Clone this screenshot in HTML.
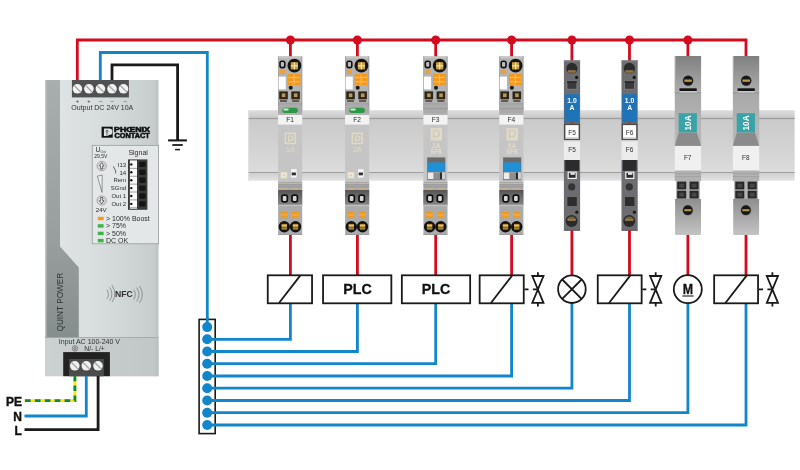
<!DOCTYPE html>
<html lang="en">
<head>
<meta charset="utf-8">
<title>Circuit breaker wiring overview</title>
<style>
html,body{margin:0;padding:0;background:#fff;}
body{width:800px;height:470px;overflow:hidden;}
svg{display:block;font-family:"Liberation Sans",sans-serif;will-change:transform;-webkit-font-smoothing:antialiased;}
</style>
</head>
<body>
<svg width="800" height="470" viewBox="0 0 800 470">
<defs>
<linearGradient id="gBody" x1="0" y1="0" x2="1" y2="0">
<stop offset="0" stop-color="#e1e5e5"/><stop offset="0.5" stop-color="#d7dcdc"/><stop offset="1" stop-color="#c6cccc"/>
</linearGradient>
<linearGradient id="gBot" x1="0" y1="0" x2="1" y2="0">
<stop offset="0" stop-color="#cbd0d0"/><stop offset="1" stop-color="#c1c7c7"/>
</linearGradient>
<linearGradient id="gStrip" x1="0" y1="0" x2="0" y2="1">
<stop offset="0" stop-color="#a8aeae"/><stop offset="0.6" stop-color="#999f9f"/><stop offset="1" stop-color="#868d8d"/>
</linearGradient>
<linearGradient id="gRailTop" x1="0" y1="0" x2="0" y2="1">
<stop offset="0" stop-color="#dedede"/><stop offset="1" stop-color="#c8c8c8"/>
</linearGradient>
<linearGradient id="gRail" x1="0" y1="0" x2="0" y2="1">
<stop offset="0" stop-color="#cacaca"/><stop offset="0.5" stop-color="#d2d2d2"/><stop offset="1" stop-color="#dcdcdc"/>
</linearGradient>
<linearGradient id="gRailLip" x1="0" y1="0" x2="0" y2="1">
<stop offset="0" stop-color="#cfcfcf"/><stop offset="1" stop-color="#e3e3e3"/>
</linearGradient>
<linearGradient id="gF7" x1="0" y1="0" x2="0" y2="1">
<stop offset="0" stop-color="#808080"/><stop offset="1" stop-color="#adadad"/>
</linearGradient>
<linearGradient id="gF7b" x1="0" y1="0" x2="0" y2="1">
<stop offset="0" stop-color="#a8a8a8"/><stop offset="1" stop-color="#b8b8b8"/>
</linearGradient>
<linearGradient id="gF7c" x1="0" y1="0" x2="0" y2="1">
<stop offset="0" stop-color="#8f8f8f"/><stop offset="1" stop-color="#c3c3c3"/>
</linearGradient>
<linearGradient id="gDark" x1="0" y1="0" x2="0" y2="1">
<stop offset="0" stop-color="#555555"/><stop offset="1" stop-color="#868686"/>
</linearGradient>
<radialGradient id="gGold" cx="0.5" cy="0.5" r="0.5">
<stop offset="0" stop-color="#d9b45a"/><stop offset="1" stop-color="#8a6a20"/>
</radialGradient>
</defs>
<rect width="800" height="470" fill="#fff"/>

<g id="rail">
<rect x="248" y="110.2" width="546.6" height="8" fill="url(#gRailTop)"/>
<rect x="248" y="118.6" width="546.6" height="54" fill="url(#gRail)"/>
<rect x="248" y="117.9" width="546.6" height="1.2" fill="#9c9c9c"/>
<rect x="248" y="172" width="546.6" height="1.4" fill="#9e9e9e"/>
<rect x="248" y="173.4" width="546.6" height="7.3" fill="url(#gRailLip)"/>
<rect x="248" y="110.2" width="1.2" height="70.5" fill="#e6e6e6" opacity="0.7"/>
</g>
<g fill="none" stroke-width="2.8" stroke-linejoin="miter">
<path d="M77.3 81V40H746V57" stroke="#d40b1e"/>
<path d="M100.3 81V52.5H207.3V325" stroke="#1286ca" stroke-width="2.8"/>
<path d="M112 81V64.8H177.6V140" stroke="#1a1a1a"/>
</g>
<g stroke="#1a1a1a" fill="none"><path d="M168.1 140.4H186.9" stroke-width="2.1"/><path d="M172.3 145H182.8" stroke-width="1.8"/><path d="M175.1 149.6H180" stroke-width="1.5"/></g>
<g id="psu">
<rect x="45" y="80" width="113.5" height="296.2" fill="url(#gBody)"/>
<path d="M45 80H60V246.5L78.8 267.5V338H45Z" fill="url(#gStrip)"/>
<rect x="45" y="80" width="1.6" height="258" fill="#c6caca" opacity="0.8"/>
<rect x="45" y="337.6" width="113.5" height="38.6" fill="url(#gBot)"/>
<rect x="45" y="337" width="113.5" height="0.9" fill="#a2a8a8"/>
<rect x="155.5" y="80" width="3" height="296.2" fill="#b4bbbb" opacity="0.35"/>
<rect x="71.9" y="80" width="57" height="17.4" fill="#505153"/>
<circle cx="77.4" cy="88.8" r="4.8" fill="#f1f1f1"/>
<path d="M74.30000000000001 85.7L80.5 91.89999999999999" stroke="#9a9a9a" stroke-width="1.2"/>
<circle cx="88.9" cy="88.8" r="4.8" fill="#f1f1f1"/>
<path d="M85.80000000000001 85.7L92.0 91.89999999999999" stroke="#9a9a9a" stroke-width="1.2"/>
<circle cx="100.4" cy="88.8" r="4.8" fill="#f1f1f1"/>
<path d="M97.30000000000001 85.7L103.5 91.89999999999999" stroke="#9a9a9a" stroke-width="1.2"/>
<circle cx="112.0" cy="88.8" r="4.8" fill="#f1f1f1"/>
<path d="M108.9 85.7L115.1 91.89999999999999" stroke="#9a9a9a" stroke-width="1.2"/>
<circle cx="123.5" cy="88.8" r="4.8" fill="#f1f1f1"/>
<path d="M120.4 85.7L126.6 91.89999999999999" stroke="#9a9a9a" stroke-width="1.2"/>
<g font-size="5.6" fill="#333" text-anchor="middle">
<text x="77.4" y="103.2">+</text>
<text x="88.9" y="103.2">+</text>
<text x="100.8" y="103.2">–</text>
<text x="112.1" y="103.2">–</text>
<text x="125.3" y="103.2">–</text>
</g>
<text x="71.3" y="109.7" font-size="7.2" fill="#333" textLength="62" lengthAdjust="spacingAndGlyphs">Output DC 24V 10A</text>
<g id="logo">
<rect x="101.6" y="126.7" width="11.1" height="11" fill="#111"/>
<path d="M103.9 128.5H109.2A3.2 3.2 0 0 1 109.2 134.9H108.4V136H103.9Z" fill="#dde1e1"/>
<circle cx="107" cy="131.3" r="1" fill="none" stroke="#111" stroke-width="0.55"/>
<path d="M107 132.3V136" stroke="#111" stroke-width="0.55"/>
<text x="114" y="131.5" font-size="6.6" font-weight="bold" fill="#111" stroke="#111" stroke-width="0.55" textLength="36" lengthAdjust="spacingAndGlyphs">PHŒNIX</text>
<text x="114.6" y="137.7" font-size="6.6" font-weight="bold" fill="#111" stroke="#111" stroke-width="0.55" textLength="35.2" lengthAdjust="spacingAndGlyphs">CONTACT</text>
</g>
<rect x="92.2" y="145.3" width="66.3" height="98.5" fill="#e3e7e7" stroke="#8d9393" stroke-width="0.7"/>
<g fill="#2c2c2c">
<text x="95.6" y="152.2" font-size="6.8">U<tspan font-size="3.2" dy="0.7">Out</tspan></text>
<text x="94.2" y="158.4" font-size="5">29,5V</text>
<text x="128.4" y="154.8" font-size="7">Signal</text>
<g font-size="6" text-anchor="end">
<text x="126.1" y="166.6">I13</text>
<text x="126.1" y="174.5">14</text>
<text x="126.1" y="182.4">Rem</text>
<text x="126.1" y="190.3">SGnd</text>
<text x="126.1" y="198.2">Out 1</text>
<text x="126.1" y="206.1">Out 2</text>
</g>
<text x="101.2" y="211.6" font-size="6.2" text-anchor="middle">24V</text>
</g>
<path d="M113.4 166.4L115.6 170.8V173.4" stroke="#2c2c2c" stroke-width="0.7" fill="none"/>
<circle cx="101.7" cy="166" r="4.6" fill="#eef0f0" stroke="#6a6a6a" stroke-width="0.6"/>
<circle cx="101.7" cy="166" r="3.3" fill="none" stroke="#9a9a9a" stroke-width="0.4"/>
<circle cx="101.7" cy="200.5" r="4.6" fill="#eef0f0" stroke="#6a6a6a" stroke-width="0.6"/>
<circle cx="101.7" cy="200.5" r="3.3" fill="none" stroke="#9a9a9a" stroke-width="0.4"/>
<path d="M101.7 162.7L104 165.8H102.7V169H100.7V165.8H99.4Z" fill="#f8f8f8" stroke="#333" stroke-width="0.75"/>
<path d="M101.7 203.8L104 200.7H102.7V197.5H100.7V200.7H99.4Z" fill="#f8f8f8" stroke="#333" stroke-width="0.75"/>
<path d="M97.4 176.2L102.2 175L102 192.4Z" fill="#eef0f0" stroke="#555" stroke-width="0.6"/>
<rect x="128" y="159.4" width="19.4" height="50.4" fill="#3a3a3a"/>
<rect x="129.9" y="160.4" width="7.1" height="48.4" fill="#fafafa"/>
<rect x="129.9" y="167.9" width="7.1" height="0.8" fill="#8a8a8a"/>
<circle cx="131.3" cy="164.4" r="1.2" fill="#111"/>
<rect x="139.2" y="161.7" width="6.4" height="5.4" rx="1.4" fill="#141414"/>
<rect x="129.9" y="175.8" width="7.1" height="0.8" fill="#8a8a8a"/>
<circle cx="131.3" cy="172.3" r="1.2" fill="#111"/>
<rect x="139.2" y="169.6" width="6.4" height="5.4" rx="1.4" fill="#141414"/>
<rect x="129.9" y="183.7" width="7.1" height="0.8" fill="#8a8a8a"/>
<circle cx="131.3" cy="180.2" r="1.2" fill="#111"/>
<rect x="139.2" y="177.5" width="6.4" height="5.4" rx="1.4" fill="#141414"/>
<rect x="129.9" y="191.6" width="7.1" height="0.8" fill="#8a8a8a"/>
<circle cx="131.3" cy="188.1" r="1.2" fill="#111"/>
<rect x="139.2" y="185.4" width="6.4" height="5.4" rx="1.4" fill="#141414"/>
<rect x="129.9" y="199.5" width="7.1" height="0.8" fill="#8a8a8a"/>
<circle cx="131.3" cy="196.0" r="1.2" fill="#111"/>
<rect x="139.2" y="193.3" width="6.4" height="5.4" rx="1.4" fill="#141414"/>
<rect x="129.9" y="207.4" width="7.1" height="0.8" fill="#8a8a8a"/>
<circle cx="131.3" cy="203.9" r="1.2" fill="#111"/>
<rect x="139.2" y="201.2" width="6.4" height="5.4" rx="1.4" fill="#141414"/>
<rect x="97.8" y="216.8" width="5.8" height="3.4" fill="#f39a1e"/>
<text x="106" y="221.0" font-size="7" fill="#2c2c2c">&gt; 100% Boost</text>
<rect x="97.8" y="224.2" width="5.8" height="3.4" fill="#3bb54a"/>
<text x="106" y="228.4" font-size="7" fill="#2c2c2c">&gt; 75%</text>
<rect x="97.8" y="231.7" width="5.8" height="3.4" fill="#3bb54a"/>
<text x="106" y="235.9" font-size="7" fill="#2c2c2c">&gt; 50%</text>
<rect x="97.8" y="238.9" width="5.8" height="3.4" fill="#3bb54a"/>
<text x="106" y="243.1" font-size="7" fill="#2c2c2c">DC OK</text>
<text transform="translate(63 331.5) rotate(-90)" font-size="9.3" fill="#2f3535" textLength="58.7" lengthAdjust="spacingAndGlyphs">QUINT POWER</text>
<text x="115.1" y="297.2" font-size="8.2" font-weight="bold" fill="#2e2e2e" textLength="17.7" lengthAdjust="spacingAndGlyphs">NFC</text>
<g fill="none" stroke="#7b8181" stroke-width="0.8">
<path d="M106.9 289.6Q110.03 294.20 106.9 298.8"/>
<path d="M109.6 287.3Q114.16 294.00 109.6 300.7"/>
<path d="M112.0 285.3Q117.78 293.80 112.0 302.3"/>
<path d="M133.7 289.6Q137.03 294.50 133.7 299.4"/>
<path d="M136.7 287.6Q141.39 294.50 136.7 301.4"/>
<path d="M139.5 286.0Q145.28 294.50 139.5 303.0"/>
</g>
<text x="58.8" y="343.8" font-size="6.9" fill="#333" textLength="61.2" lengthAdjust="spacingAndGlyphs">Input AC 100-240 V</text>
<text x="84.3" y="350.7" font-size="6.9" fill="#333" textLength="20.5" lengthAdjust="spacingAndGlyphs">N/- L/+</text>
<circle cx="75" cy="348.4" r="2.7" fill="none" stroke="#444" stroke-width="0.55"/>
<path d="M75 346.4V348.2M73.3 348.2H76.7M73.9 349.2H76.1M74.5 350.1H75.5" stroke="#444" stroke-width="0.5" fill="none"/>
<rect x="63.2" y="352.1" width="46.7" height="24.1" fill="#222"/>
<rect x="69.1" y="359" width="34.8" height="17.2" fill="#4c4c4c"/>
<circle cx="74.8" cy="365.8" r="4.8" fill="#efefef"/>
<path d="M71.7 362.7L77.89999999999999 368.90000000000003" stroke="#9a9a9a" stroke-width="1.2"/>
<circle cx="86.3" cy="365.8" r="4.8" fill="#efefef"/>
<path d="M83.2 362.7L89.39999999999999 368.90000000000003" stroke="#9a9a9a" stroke-width="1.2"/>
<circle cx="98.0" cy="365.8" r="4.8" fill="#efefef"/>
<path d="M94.9 362.7L101.1 368.90000000000003" stroke="#9a9a9a" stroke-width="1.2"/>
</g>
<g fill="none" stroke-width="2.8">
<path d="M74.9 376V400.6H24.5" stroke="#ffe600"/>
<path d="M74.9 376V400.6H24.5" stroke="#0a8a3a" stroke-dasharray="5.6 4.3" stroke-dashoffset="0.4"/>
<path d="M86.3 376V416H24.5" stroke="#1286ca"/>
<path d="M98.1 376V429.6H24.5" stroke="#1a1a1a"/>
</g>
<g font-size="12" font-weight="bold" fill="#111" stroke="#111" stroke-width="0.4" text-anchor="end">
<text x="21.9" y="405.5">PE</text><text x="21.9" y="420.8">N</text><text x="21.9" y="434.6">L</text>
</g>
<g id="modules">
<path d="M290.4 40V57" stroke="#d40b1e" stroke-width="2.8"/>
<circle cx="290.4" cy="40" r="4.5" fill="#d40b1e"/>
<path d="M357.4 40V57" stroke="#d40b1e" stroke-width="2.8"/>
<circle cx="357.4" cy="40" r="4.5" fill="#d40b1e"/>
<path d="M435.7 40V57" stroke="#d40b1e" stroke-width="2.8"/>
<circle cx="435.7" cy="40" r="4.5" fill="#d40b1e"/>
<path d="M511.6 40V57" stroke="#d40b1e" stroke-width="2.8"/>
<circle cx="511.6" cy="40" r="4.5" fill="#d40b1e"/>
<path d="M571.9 40V61" stroke="#d40b1e" stroke-width="2.8"/>
<circle cx="571.9" cy="40" r="4.5" fill="#d40b1e"/>
<path d="M629.5 40V61" stroke="#d40b1e" stroke-width="2.8"/>
<circle cx="629.5" cy="40" r="4.5" fill="#d40b1e"/>
<path d="M687.9 40V57" stroke="#d40b1e" stroke-width="2.8"/>
<circle cx="687.9" cy="40" r="4.5" fill="#d40b1e"/>
<rect x="278.1" y="56.4" width="24.1" height="54" fill="#b4b4b4"/>
<rect x="278.1" y="56.4" width="24.1" height="2" fill="#c6c6c6"/>
<rect x="278.1" y="56.4" width="0.8" height="54" fill="#9c9c9c"/>
<rect x="301.4" y="56.4" width="0.8" height="54" fill="#9c9c9c"/>
<rect x="280.0" y="61.2" width="4.8" height="6.4" fill="#bdbdbd" rx="1.8" stroke="#111" stroke-width="1.6"/>
<circle cx="294.4" cy="65.7" r="6.9" fill="#141414"/>
<rect x="290.8" y="62.2" width="7.2" height="7.2" fill="#c9a040"/>
<path d="M290.8 65.8H298.0M294.4 62.2V69.4" stroke="#f2e2a8" stroke-width="1.2"/>
<rect x="279.9" y="69.8" width="5" height="4.1" fill="#f0a030"/>
<rect x="287.7" y="74" width="12.7" height="11.2" fill="#f39a1c"/>
<path d="M288.5 77.4H299.7M288.5 81.8H299.7M294.1 74.6V84.6" stroke="#f8c274" stroke-width="0.9"/>
<rect x="278.6" y="76.6" width="7.2" height="12.8" fill="#fdfdfd"/>
<circle cx="290.7" cy="87.7" r="2.0" fill="#1a1a1a"/>
<rect x="279.2" y="91.4" width="8.6" height="7.9" fill="#2c261a"/>
<rect x="281.8" y="93.4" width="3.6" height="3.7" fill="#b9985a"/>
<rect x="280.0" y="100.3" width="7" height="1.4" fill="#3c3426"/>
<rect x="291.3" y="91.4" width="8.6" height="7.9" fill="#2c261a"/>
<rect x="293.9" y="93.4" width="3.6" height="3.7" fill="#b9985a"/>
<rect x="292.1" y="100.3" width="7" height="1.4" fill="#3c3426"/>
<rect x="278.1" y="102.8" width="24.1" height="0.7" fill="#969696"/>
<rect x="278.1" y="104.6" width="24.1" height="0.7" fill="#969696"/>
<rect x="278.1" y="106.4" width="24.1" height="6.6" fill="#a9a9a9"/>
<rect x="282.3" y="107.7" width="15.6" height="5.2" fill="#2f9648" rx="2.6"/>
<rect x="283.3" y="108.6" width="5.4" height="2" fill="#c9efd0" rx="1"/>
<rect x="278.1" y="113" width="24.1" height="70.4" fill="#c5c5c5"/>
<rect x="278.1" y="113" width="24.1" height="2.2" fill="#b2b2b2"/>
<rect x="278.1" y="115" width="24.1" height="9.6" fill="#f3f3f3"/>
<text x="290.2" y="122.2" font-size="6.6" fill="#2a2a2a" text-anchor="middle">F1</text>
<rect x="285.3" y="133.29999999999998" width="9.8" height="10.2" fill="none" stroke="#e3dac4" stroke-width="1.5"/>
<path d="M288.7 142.0V136.0H290.7A2.2 2.2 0 0 1 290.7 140.4H288.7" fill="none" stroke="#e3dac4" stroke-width="1.2"/>
<text x="290.3" y="152.2" font-size="7.2" fill="#e3dac4" text-anchor="middle">1A</text>
<rect x="280.3" y="171.8" width="7.2" height="6.8" fill="#ddd6c4"/>
<rect x="281.4" y="172.9" width="5" height="4.6" fill="#f1ede2"/>
<rect x="282.7" y="174.2" width="2.4" height="2.2" fill="#d8cfb8"/>
<rect x="291.1" y="169.2" width="5.5" height="8.4" fill="#f7f7f7"/>
<rect x="291.7" y="172.5" width="4.2" height="2.8" fill="#2e2e2e"/>
<rect x="278.1" y="183.4" width="24.1" height="51.6" fill="#ababab"/>
<rect x="278.1" y="182.4" width="24.1" height="0.8" fill="#939393"/>
<rect x="278.1" y="184.4" width="24.1" height="0.8" fill="#939393"/>
<rect x="278.1" y="186.4" width="24.1" height="0.8" fill="#939393"/>
<rect x="280.7" y="188.5" width="7" height="1.6" fill="#dcaa6c"/>
<rect x="291.9" y="188.5" width="7" height="1.6" fill="#dcaa6c"/>
<rect x="278.1" y="190" width="24.1" height="14.8" fill="url(#gDark)"/>
<rect x="281.9" y="195.1" width="5.4" height="6.8" fill="#d4d4d4" rx="1.9" stroke="#111" stroke-width="1.7"/>
<rect x="292.0" y="195.1" width="5.4" height="6.8" fill="#d4d4d4" rx="1.9" stroke="#111" stroke-width="1.7"/>
<rect x="278.1" y="204.8" width="24.1" height="1.3" fill="#c2c2c2"/>
<rect x="280.6" y="211.8" width="6.8" height="6.3" fill="#f39a1c"/>
<path d="M280.6 214.9H287.4" stroke="#f8c274" stroke-width="0.7"/>
<rect x="292.0" y="211.8" width="6.8" height="6.3" fill="#f39a1c"/>
<path d="M292.0 214.9H298.8" stroke="#f8c274" stroke-width="0.7"/>
<circle cx="284.3" cy="226.7" r="5.7" fill="#121212"/>
<rect x="281.6" y="223.9" width="5.4" height="5.7" fill="#b8923e"/>
<rect x="281.6" y="225.2" width="5.4" height="0.9" fill="#e6d08c"/>
<rect x="281.6" y="227.4" width="5.4" height="0.9" fill="#6a5220"/>
<circle cx="295.5" cy="226.7" r="5.7" fill="#121212"/>
<rect x="292.8" y="223.9" width="5.4" height="5.7" fill="#b8923e"/>
<rect x="292.8" y="225.2" width="5.4" height="0.9" fill="#e6d08c"/>
<rect x="292.8" y="227.4" width="5.4" height="0.9" fill="#6a5220"/>
<rect x="278.1" y="234.5" width="24.1" height="0.5" fill="#8f8f8f"/>
<rect x="345.1" y="56.4" width="24.1" height="54" fill="#b4b4b4"/>
<rect x="345.1" y="56.4" width="24.1" height="2" fill="#c6c6c6"/>
<rect x="345.1" y="56.4" width="0.8" height="54" fill="#9c9c9c"/>
<rect x="368.4" y="56.4" width="0.8" height="54" fill="#9c9c9c"/>
<rect x="347.0" y="61.2" width="4.8" height="6.4" fill="#bdbdbd" rx="1.8" stroke="#111" stroke-width="1.6"/>
<circle cx="361.4" cy="65.7" r="6.9" fill="#141414"/>
<rect x="357.8" y="62.2" width="7.2" height="7.2" fill="#c9a040"/>
<path d="M357.8 65.8H365.0M361.4 62.2V69.4" stroke="#f2e2a8" stroke-width="1.2"/>
<rect x="346.9" y="69.8" width="5" height="4.1" fill="#f0a030"/>
<rect x="354.7" y="74" width="12.7" height="11.2" fill="#f39a1c"/>
<path d="M355.5 77.4H366.7M355.5 81.8H366.7M361.1 74.6V84.6" stroke="#f8c274" stroke-width="0.9"/>
<rect x="345.6" y="76.6" width="7.2" height="12.8" fill="#fdfdfd"/>
<circle cx="357.7" cy="87.7" r="2.0" fill="#1a1a1a"/>
<rect x="346.2" y="91.4" width="8.6" height="7.9" fill="#2c261a"/>
<rect x="348.8" y="93.4" width="3.6" height="3.7" fill="#b9985a"/>
<rect x="347.0" y="100.3" width="7" height="1.4" fill="#3c3426"/>
<rect x="358.3" y="91.4" width="8.6" height="7.9" fill="#2c261a"/>
<rect x="360.9" y="93.4" width="3.6" height="3.7" fill="#b9985a"/>
<rect x="359.1" y="100.3" width="7" height="1.4" fill="#3c3426"/>
<rect x="345.1" y="102.8" width="24.1" height="0.7" fill="#969696"/>
<rect x="345.1" y="104.6" width="24.1" height="0.7" fill="#969696"/>
<rect x="345.1" y="106.4" width="24.1" height="6.6" fill="#a9a9a9"/>
<rect x="349.3" y="107.7" width="15.6" height="5.2" fill="#2f9648" rx="2.6"/>
<rect x="350.3" y="108.6" width="5.4" height="2" fill="#c9efd0" rx="1"/>
<rect x="345.1" y="113" width="24.1" height="70.4" fill="#c5c5c5"/>
<rect x="345.1" y="113" width="24.1" height="2.2" fill="#b2b2b2"/>
<rect x="345.1" y="115" width="24.1" height="9.6" fill="#f3f3f3"/>
<text x="357.2" y="122.2" font-size="6.6" fill="#2a2a2a" text-anchor="middle">F2</text>
<rect x="352.3" y="133.29999999999998" width="9.8" height="10.2" fill="none" stroke="#e3dac4" stroke-width="1.5"/>
<path d="M355.7 142.0V136.0H357.7A2.2 2.2 0 0 1 357.7 140.4H355.7" fill="none" stroke="#e3dac4" stroke-width="1.2"/>
<text x="357.3" y="152.2" font-size="7.2" fill="#e3dac4" text-anchor="middle">2A</text>
<rect x="347.3" y="171.8" width="7.2" height="6.8" fill="#ddd6c4"/>
<rect x="348.4" y="172.9" width="5" height="4.6" fill="#f1ede2"/>
<rect x="349.7" y="174.2" width="2.4" height="2.2" fill="#d8cfb8"/>
<rect x="358.1" y="169.2" width="5.5" height="8.4" fill="#f7f7f7"/>
<rect x="358.7" y="172.5" width="4.2" height="2.8" fill="#2e2e2e"/>
<rect x="345.1" y="183.4" width="24.1" height="51.6" fill="#ababab"/>
<rect x="345.1" y="182.4" width="24.1" height="0.8" fill="#939393"/>
<rect x="345.1" y="184.4" width="24.1" height="0.8" fill="#939393"/>
<rect x="345.1" y="186.4" width="24.1" height="0.8" fill="#939393"/>
<rect x="347.7" y="188.5" width="7" height="1.6" fill="#dcaa6c"/>
<rect x="358.9" y="188.5" width="7" height="1.6" fill="#dcaa6c"/>
<rect x="345.1" y="190" width="24.1" height="14.8" fill="url(#gDark)"/>
<rect x="348.9" y="195.1" width="5.4" height="6.8" fill="#d4d4d4" rx="1.9" stroke="#111" stroke-width="1.7"/>
<rect x="359.0" y="195.1" width="5.4" height="6.8" fill="#d4d4d4" rx="1.9" stroke="#111" stroke-width="1.7"/>
<rect x="345.1" y="204.8" width="24.1" height="1.3" fill="#c2c2c2"/>
<rect x="347.6" y="211.8" width="6.8" height="6.3" fill="#f39a1c"/>
<path d="M347.6 214.9H354.4" stroke="#f8c274" stroke-width="0.7"/>
<rect x="359.0" y="211.8" width="6.8" height="6.3" fill="#f39a1c"/>
<path d="M359.0 214.9H365.8" stroke="#f8c274" stroke-width="0.7"/>
<circle cx="351.3" cy="226.7" r="5.7" fill="#121212"/>
<rect x="348.6" y="223.9" width="5.4" height="5.7" fill="#b8923e"/>
<rect x="348.6" y="225.2" width="5.4" height="0.9" fill="#e6d08c"/>
<rect x="348.6" y="227.4" width="5.4" height="0.9" fill="#6a5220"/>
<circle cx="362.5" cy="226.7" r="5.7" fill="#121212"/>
<rect x="359.8" y="223.9" width="5.4" height="5.7" fill="#b8923e"/>
<rect x="359.8" y="225.2" width="5.4" height="0.9" fill="#e6d08c"/>
<rect x="359.8" y="227.4" width="5.4" height="0.9" fill="#6a5220"/>
<rect x="345.1" y="234.5" width="24.1" height="0.5" fill="#8f8f8f"/>
<rect x="423.4" y="56.4" width="24.1" height="54" fill="#b4b4b4"/>
<rect x="423.4" y="56.4" width="24.1" height="2" fill="#c6c6c6"/>
<rect x="423.4" y="56.4" width="0.8" height="54" fill="#9c9c9c"/>
<rect x="446.7" y="56.4" width="0.8" height="54" fill="#9c9c9c"/>
<rect x="425.3" y="61.2" width="4.8" height="6.4" fill="#bdbdbd" rx="1.8" stroke="#111" stroke-width="1.6"/>
<circle cx="439.7" cy="65.7" r="6.9" fill="#141414"/>
<rect x="436.1" y="62.2" width="7.2" height="7.2" fill="#c9a040"/>
<path d="M436.1 65.8H443.3M439.7 62.2V69.4" stroke="#f2e2a8" stroke-width="1.2"/>
<rect x="425.2" y="69.8" width="5" height="4.1" fill="#f0a030"/>
<rect x="433.0" y="74" width="12.7" height="11.2" fill="#f39a1c"/>
<path d="M433.8 77.4H445.0M433.8 81.8H445.0M439.4 74.6V84.6" stroke="#f8c274" stroke-width="0.9"/>
<rect x="423.9" y="76.6" width="7.2" height="12.8" fill="#fdfdfd"/>
<circle cx="436.0" cy="87.7" r="2.0" fill="#1a1a1a"/>
<rect x="424.5" y="91.4" width="8.6" height="7.9" fill="#2c261a"/>
<rect x="427.1" y="93.4" width="3.6" height="3.7" fill="#b9985a"/>
<rect x="425.3" y="100.3" width="7" height="1.4" fill="#3c3426"/>
<rect x="436.6" y="91.4" width="8.6" height="7.9" fill="#2c261a"/>
<rect x="439.2" y="93.4" width="3.6" height="3.7" fill="#b9985a"/>
<rect x="437.4" y="100.3" width="7" height="1.4" fill="#3c3426"/>
<rect x="423.4" y="102.8" width="24.1" height="0.7" fill="#969696"/>
<rect x="423.4" y="104.6" width="24.1" height="0.7" fill="#969696"/>
<rect x="423.4" y="106.4" width="24.1" height="6.6" fill="#a9a9a9"/>
<rect x="423.4" y="108.2" width="24.1" height="0.7" fill="#969696"/>
<rect x="423.4" y="113" width="24.1" height="70.4" fill="#c5c5c5"/>
<rect x="423.4" y="113" width="24.1" height="2.2" fill="#b2b2b2"/>
<rect x="423.4" y="115" width="24.1" height="9.6" fill="#f3f3f3"/>
<text x="435.5" y="122.2" font-size="6.6" fill="#2a2a2a" text-anchor="middle">F3</text>
<rect x="430.6" y="128.2" width="11.4" height="12.4" fill="#e3dac4"/>
<path d="M433.6 138.79999999999998V130.39999999999998H436.4A3 3 0 0 1 436.4 136.39999999999998H433.6" fill="none" stroke="#c9c9c9" stroke-width="1.3"/>
<text x="436.2" y="148.2" font-size="6.4" font-weight="bold" fill="#e3dac4" text-anchor="middle">2A</text>
<text x="436.2" y="153.9" font-size="6.4" font-weight="bold" fill="#e3dac4" text-anchor="middle" textLength="11.6" lengthAdjust="spacingAndGlyphs">SFB</text>
<rect x="427.2" y="157.4" width="18.1" height="22.8" fill="#6a6a6a"/>
<rect x="427.8" y="162.4" width="17" height="9.6" fill="#1f8fd6"/>
<rect x="427.8" y="172.4" width="17" height="6.8" fill="#ececec"/>
<rect x="433.4" y="172.4" width="6.4" height="6.8" fill="#8e8e8e"/>
<rect x="439.8" y="172.4" width="2.4" height="6.8" fill="#2a2a2a"/>
<rect x="442.2" y="172.4" width="2.6" height="6.8" fill="#d0d0d0"/>
<rect x="423.4" y="183.4" width="24.1" height="51.6" fill="#ababab"/>
<rect x="423.4" y="182.4" width="24.1" height="0.8" fill="#939393"/>
<rect x="423.4" y="184.4" width="24.1" height="0.8" fill="#939393"/>
<rect x="423.4" y="186.4" width="24.1" height="0.8" fill="#939393"/>
<rect x="426.0" y="188.5" width="7" height="1.6" fill="#dcaa6c"/>
<rect x="437.2" y="188.5" width="7" height="1.6" fill="#dcaa6c"/>
<rect x="423.4" y="190" width="24.1" height="14.8" fill="url(#gDark)"/>
<rect x="427.2" y="195.1" width="5.4" height="6.8" fill="#d4d4d4" rx="1.9" stroke="#111" stroke-width="1.7"/>
<rect x="437.3" y="195.1" width="5.4" height="6.8" fill="#d4d4d4" rx="1.9" stroke="#111" stroke-width="1.7"/>
<rect x="423.4" y="204.8" width="24.1" height="1.3" fill="#c2c2c2"/>
<rect x="425.9" y="211.8" width="6.8" height="6.3" fill="#f39a1c"/>
<path d="M425.9 214.9H432.7" stroke="#f8c274" stroke-width="0.7"/>
<rect x="437.3" y="211.8" width="6.8" height="6.3" fill="#f39a1c"/>
<path d="M437.3 214.9H444.1" stroke="#f8c274" stroke-width="0.7"/>
<circle cx="429.6" cy="226.7" r="5.7" fill="#121212"/>
<rect x="426.9" y="223.9" width="5.4" height="5.7" fill="#b8923e"/>
<rect x="426.9" y="225.2" width="5.4" height="0.9" fill="#e6d08c"/>
<rect x="426.9" y="227.4" width="5.4" height="0.9" fill="#6a5220"/>
<circle cx="440.8" cy="226.7" r="5.7" fill="#121212"/>
<rect x="438.1" y="223.9" width="5.4" height="5.7" fill="#b8923e"/>
<rect x="438.1" y="225.2" width="5.4" height="0.9" fill="#e6d08c"/>
<rect x="438.1" y="227.4" width="5.4" height="0.9" fill="#6a5220"/>
<rect x="423.4" y="234.5" width="24.1" height="0.5" fill="#8f8f8f"/>
<rect x="499.3" y="56.4" width="24.1" height="54" fill="#b4b4b4"/>
<rect x="499.3" y="56.4" width="24.1" height="2" fill="#c6c6c6"/>
<rect x="499.3" y="56.4" width="0.8" height="54" fill="#9c9c9c"/>
<rect x="522.6" y="56.4" width="0.8" height="54" fill="#9c9c9c"/>
<rect x="501.2" y="61.2" width="4.8" height="6.4" fill="#bdbdbd" rx="1.8" stroke="#111" stroke-width="1.6"/>
<circle cx="515.6" cy="65.7" r="6.9" fill="#141414"/>
<rect x="512.0" y="62.2" width="7.2" height="7.2" fill="#c9a040"/>
<path d="M512.0 65.8H519.2M515.6 62.2V69.4" stroke="#f2e2a8" stroke-width="1.2"/>
<rect x="501.1" y="69.8" width="5" height="4.1" fill="#f0a030"/>
<rect x="508.9" y="74" width="12.7" height="11.2" fill="#f39a1c"/>
<path d="M509.7 77.4H520.9M509.7 81.8H520.9M515.3 74.6V84.6" stroke="#f8c274" stroke-width="0.9"/>
<rect x="499.8" y="76.6" width="7.2" height="12.8" fill="#fdfdfd"/>
<circle cx="511.9" cy="87.7" r="2.0" fill="#1a1a1a"/>
<rect x="500.4" y="91.4" width="8.6" height="7.9" fill="#2c261a"/>
<rect x="503.0" y="93.4" width="3.6" height="3.7" fill="#b9985a"/>
<rect x="501.2" y="100.3" width="7" height="1.4" fill="#3c3426"/>
<rect x="512.5" y="91.4" width="8.6" height="7.9" fill="#2c261a"/>
<rect x="515.1" y="93.4" width="3.6" height="3.7" fill="#b9985a"/>
<rect x="513.3" y="100.3" width="7" height="1.4" fill="#3c3426"/>
<rect x="499.3" y="102.8" width="24.1" height="0.7" fill="#969696"/>
<rect x="499.3" y="104.6" width="24.1" height="0.7" fill="#969696"/>
<rect x="499.3" y="106.4" width="24.1" height="6.6" fill="#a9a9a9"/>
<rect x="499.3" y="108.2" width="24.1" height="0.7" fill="#969696"/>
<rect x="499.3" y="113" width="24.1" height="70.4" fill="#c5c5c5"/>
<rect x="499.3" y="113" width="24.1" height="2.2" fill="#b2b2b2"/>
<rect x="499.3" y="115" width="24.1" height="9.6" fill="#f3f3f3"/>
<text x="511.4" y="122.2" font-size="6.6" fill="#2a2a2a" text-anchor="middle">F4</text>
<rect x="506.5" y="128.2" width="11.4" height="12.4" fill="#e3dac4"/>
<path d="M509.5 138.79999999999998V130.39999999999998H512.3A3 3 0 0 1 512.3 136.39999999999998H509.5" fill="none" stroke="#c9c9c9" stroke-width="1.3"/>
<text x="512.1" y="148.2" font-size="6.4" font-weight="bold" fill="#e3dac4" text-anchor="middle">6A</text>
<text x="512.1" y="153.9" font-size="6.4" font-weight="bold" fill="#e3dac4" text-anchor="middle" textLength="11.6" lengthAdjust="spacingAndGlyphs">SFB</text>
<rect x="503.1" y="157.4" width="18.1" height="22.8" fill="#6a6a6a"/>
<rect x="503.7" y="162.4" width="17" height="9.6" fill="#1f8fd6"/>
<rect x="503.7" y="172.4" width="17" height="6.8" fill="#ececec"/>
<rect x="509.3" y="172.4" width="6.4" height="6.8" fill="#8e8e8e"/>
<rect x="515.7" y="172.4" width="2.4" height="6.8" fill="#2a2a2a"/>
<rect x="518.1" y="172.4" width="2.6" height="6.8" fill="#d0d0d0"/>
<rect x="499.3" y="183.4" width="24.1" height="51.6" fill="#ababab"/>
<rect x="499.3" y="182.4" width="24.1" height="0.8" fill="#939393"/>
<rect x="499.3" y="184.4" width="24.1" height="0.8" fill="#939393"/>
<rect x="499.3" y="186.4" width="24.1" height="0.8" fill="#939393"/>
<rect x="501.9" y="188.5" width="7" height="1.6" fill="#dcaa6c"/>
<rect x="513.1" y="188.5" width="7" height="1.6" fill="#dcaa6c"/>
<rect x="499.3" y="190" width="24.1" height="14.8" fill="url(#gDark)"/>
<rect x="503.1" y="195.1" width="5.4" height="6.8" fill="#d4d4d4" rx="1.9" stroke="#111" stroke-width="1.7"/>
<rect x="513.2" y="195.1" width="5.4" height="6.8" fill="#d4d4d4" rx="1.9" stroke="#111" stroke-width="1.7"/>
<rect x="499.3" y="204.8" width="24.1" height="1.3" fill="#c2c2c2"/>
<rect x="501.8" y="211.8" width="6.8" height="6.3" fill="#f39a1c"/>
<path d="M501.8 214.9H508.6" stroke="#f8c274" stroke-width="0.7"/>
<rect x="513.2" y="211.8" width="6.8" height="6.3" fill="#f39a1c"/>
<path d="M513.2 214.9H520.0" stroke="#f8c274" stroke-width="0.7"/>
<circle cx="505.5" cy="226.7" r="5.7" fill="#121212"/>
<rect x="502.8" y="223.9" width="5.4" height="5.7" fill="#b8923e"/>
<rect x="502.8" y="225.2" width="5.4" height="0.9" fill="#e6d08c"/>
<rect x="502.8" y="227.4" width="5.4" height="0.9" fill="#6a5220"/>
<circle cx="516.7" cy="226.7" r="5.7" fill="#121212"/>
<rect x="514.0" y="223.9" width="5.4" height="5.7" fill="#b8923e"/>
<rect x="514.0" y="225.2" width="5.4" height="0.9" fill="#e6d08c"/>
<rect x="514.0" y="227.4" width="5.4" height="0.9" fill="#6a5220"/>
<rect x="499.3" y="234.5" width="24.1" height="0.5" fill="#8f8f8f"/>
<rect x="563.9" y="60.4" width="16.2" height="64" fill="#6b6d70"/>
<rect x="563.9" y="60.4" width="16.2" height="1.2" fill="#808284"/>
<circle cx="571.8" cy="68.4" r="5.6" fill="#2c2c2c"/>
<path d="M567.4 70.8H576.2A4.6 4.6 0 0 1 567.4 70.8Z" fill="#7a6238"/>
<rect x="568.0" y="70.4" width="7.6" height="1.1" fill="#a48a52"/>
<circle cx="576.6" cy="77.4" r="1.6" fill="#161616"/>
<rect x="567.0" y="81.2" width="9.9" height="8" fill="#3a3a3a" stroke="#8a8c8e" stroke-width="0.7"/>
<rect x="567.0" y="81.2" width="9.9" height="1.6" fill="#262626"/>
<rect x="564.6" y="94.2" width="14.6" height="28" fill="#1f74b8"/>
<text x="572.0" y="103.2" font-size="6.8" font-weight="bold" fill="#fff" text-anchor="middle">1.0</text>
<text x="572.0" y="110.4" font-size="6.8" font-weight="bold" fill="#fff" text-anchor="middle">A</text>
<rect x="570.8" y="122" width="2.2" height="1.4" fill="#b03020"/>
<rect x="563.9" y="123.8" width="16.2" height="16.6" fill="#4a4a4a"/>
<rect x="565.4" y="125.1" width="13.2" height="13.8" fill="#fbfbfb"/>
<rect x="565.4" y="137.4" width="13.2" height="1.5" fill="#c4c4c4"/>
<text x="572.0" y="135" font-size="6.5" fill="#2e2e2e" text-anchor="middle">F5</text>
<rect x="563.9" y="140.4" width="16.2" height="19.8" fill="#ececec"/>
<rect x="563.9" y="140.4" width="16.2" height="1" fill="#d0d0d0"/>
<text x="572.0" y="151.7" font-size="6.5" fill="#2e2e2e" text-anchor="middle">F5</text>
<rect x="563.9" y="160" width="16.2" height="70.6" fill="#6b6d70"/>
<rect x="565.2" y="160" width="13.8" height="10.8" fill="#2b2b2b"/>
<rect x="568.2" y="172.2" width="8" height="6.2" fill="#2a2a2a" stroke="#f4f4f4" stroke-width="1.2"/>
<rect x="570.4" y="173" width="4.4" height="1.8" fill="#e8e8e8"/>
<circle cx="571.7" cy="186.9" r="3.6" fill="#343434"/>
<rect x="567.4" y="197" width="9.4" height="9" fill="#2e2e2e"/>
<circle cx="576.8" cy="212.2" r="1.6" fill="#1c1c1c"/>
<circle cx="571.6" cy="221" r="6.0" fill="#2a2a2a"/>
<path d="M567.0 220.2A4.7 4.7 0 0 1 576.2 220.2Z" fill="#7a6238"/>
<rect x="567.6" y="219.4" width="8" height="1.3" fill="#a48a52"/>
<rect x="563.9" y="229.8" width="16.2" height="0.8" fill="#4c4c4c"/>
<rect x="621.5" y="60.4" width="16.2" height="64" fill="#6b6d70"/>
<rect x="621.5" y="60.4" width="16.2" height="1.2" fill="#808284"/>
<circle cx="629.4" cy="68.4" r="5.6" fill="#2c2c2c"/>
<path d="M625.0 70.8H633.8A4.6 4.6 0 0 1 625.0 70.8Z" fill="#7a6238"/>
<rect x="625.6" y="70.4" width="7.6" height="1.1" fill="#a48a52"/>
<circle cx="634.2" cy="77.4" r="1.6" fill="#161616"/>
<rect x="624.6" y="81.2" width="9.9" height="8" fill="#3a3a3a" stroke="#8a8c8e" stroke-width="0.7"/>
<rect x="624.6" y="81.2" width="9.9" height="1.6" fill="#262626"/>
<rect x="622.2" y="94.2" width="14.6" height="28" fill="#1f74b8"/>
<text x="629.6" y="103.2" font-size="6.8" font-weight="bold" fill="#fff" text-anchor="middle">1.0</text>
<text x="629.6" y="110.4" font-size="6.8" font-weight="bold" fill="#fff" text-anchor="middle">A</text>
<rect x="628.4" y="122" width="2.2" height="1.4" fill="#b03020"/>
<rect x="621.5" y="123.8" width="16.2" height="16.6" fill="#4a4a4a"/>
<rect x="623.0" y="125.1" width="13.2" height="13.8" fill="#fbfbfb"/>
<rect x="623.0" y="137.4" width="13.2" height="1.5" fill="#c4c4c4"/>
<text x="629.6" y="135" font-size="6.5" fill="#2e2e2e" text-anchor="middle">F6</text>
<rect x="621.5" y="140.4" width="16.2" height="19.8" fill="#ececec"/>
<rect x="621.5" y="140.4" width="16.2" height="1" fill="#d0d0d0"/>
<text x="629.6" y="151.7" font-size="6.5" fill="#2e2e2e" text-anchor="middle">F6</text>
<rect x="621.5" y="160" width="16.2" height="70.6" fill="#6b6d70"/>
<rect x="622.8" y="160" width="13.8" height="10.8" fill="#2b2b2b"/>
<rect x="625.8" y="172.2" width="8" height="6.2" fill="#2a2a2a" stroke="#f4f4f4" stroke-width="1.2"/>
<rect x="628.0" y="173" width="4.4" height="1.8" fill="#e8e8e8"/>
<circle cx="629.3" cy="186.9" r="3.6" fill="#343434"/>
<rect x="625.0" y="197" width="9.4" height="9" fill="#2e2e2e"/>
<circle cx="634.4" cy="212.2" r="1.6" fill="#1c1c1c"/>
<circle cx="629.2" cy="221" r="6.0" fill="#2a2a2a"/>
<path d="M624.6 220.2A4.7 4.7 0 0 1 633.8 220.2Z" fill="#7a6238"/>
<rect x="625.2" y="219.4" width="8" height="1.3" fill="#a48a52"/>
<rect x="621.5" y="229.8" width="16.2" height="0.8" fill="#4c4c4c"/>
<rect x="674.8" y="56" width="26.3" height="36.6" fill="url(#gF7)"/>
<rect x="674.8" y="56" width="1.1" height="36.6" fill="#a9a9a9"/>
<rect x="674.8" y="92.4" width="26.3" height="42" fill="url(#gF7b)"/>
<rect x="674.8" y="92.4" width="26.3" height="0.9" fill="#8a8a8a"/>
<rect x="679.5" y="88.3" width="17.2" height="2.9" fill="#151515"/>
<rect x="679.5" y="91.2" width="17.2" height="1.2" fill="#d6d6d6"/>
<circle cx="688.1" cy="80.6" r="5.2" fill="#181818"/>
<rect x="684.3" y="79.5" width="7.6" height="2.3" fill="#b99a4a"/>
<rect x="678.6" y="113.2" width="18.3" height="19.5" fill="#3aa3a8"/>
<text transform="translate(691.0 122.9) rotate(-90)" font-size="8.3" font-weight="bold" fill="#fff" text-anchor="middle">10A</text>
<rect x="674.8" y="132.7" width="26.3" height="13.3" fill="#b6b6b6"/>
<path d="M678.6 132.7H696.9L701.1 146H674.8Z" fill="#8b8b8b"/>
<rect x="674.8" y="145.9" width="26.3" height="24.7" fill="#f0f0f0"/>
<text x="687.7" y="160.4" font-size="6.5" fill="#2e2e2e" text-anchor="middle">F7</text>
<rect x="674.8" y="170.6" width="26.3" height="10.4" fill="#b1b1b1"/>
<rect x="674.8" y="173.4" width="26.3" height="0.7" fill="#9a9a9a"/>
<rect x="674.8" y="176.4" width="26.3" height="0.7" fill="#9a9a9a"/>
<rect x="676.0" y="180.8" width="23.900000000000002" height="18.4" fill="#b4b4b4"/>
<rect x="677.2" y="181.6" width="9" height="7.8" fill="#262626"/>
<rect x="679.2" y="183.6" width="5" height="4" fill="#474747"/>
<rect x="677.2" y="190.7" width="9" height="7.8" fill="#262626"/>
<rect x="679.2" y="192.7" width="5" height="4" fill="#474747"/>
<rect x="689.6" y="181.6" width="9" height="7.8" fill="#262626"/>
<rect x="691.6" y="183.6" width="5" height="4" fill="#474747"/>
<rect x="689.6" y="190.7" width="9" height="7.8" fill="#262626"/>
<rect x="691.6" y="192.7" width="5" height="4" fill="#474747"/>
<rect x="675.1" y="199.2" width="25.900000000000002" height="35.9" fill="url(#gF7c)" rx="1.4"/>
<rect x="674.8" y="199.2" width="26.3" height="1" fill="#8a8a8a"/>
<circle cx="687.8" cy="210.2" r="5.6" fill="#8a8a8a"/>
<circle cx="687.8" cy="210.2" r="4.9" fill="#181818"/>
<rect x="684.3" y="209.2" width="7" height="2" fill="#b99a4a"/>
<rect x="732.9" y="56" width="26.3" height="36.6" fill="url(#gF7)"/>
<rect x="732.9" y="56" width="1.1" height="36.6" fill="#a9a9a9"/>
<rect x="732.9" y="92.4" width="26.3" height="42" fill="url(#gF7b)"/>
<rect x="732.9" y="92.4" width="26.3" height="0.9" fill="#8a8a8a"/>
<rect x="737.6" y="88.3" width="17.2" height="2.9" fill="#151515"/>
<rect x="737.6" y="91.2" width="17.2" height="1.2" fill="#d6d6d6"/>
<circle cx="746.2" cy="80.6" r="5.2" fill="#181818"/>
<rect x="742.4" y="79.5" width="7.6" height="2.3" fill="#b99a4a"/>
<rect x="736.7" y="113.2" width="18.3" height="19.5" fill="#3aa3a8"/>
<text transform="translate(749.1 122.9) rotate(-90)" font-size="8.3" font-weight="bold" fill="#fff" text-anchor="middle">10A</text>
<rect x="732.9" y="132.7" width="26.3" height="13.3" fill="#b6b6b6"/>
<path d="M736.7 132.7H755.0L759.2 146H732.9Z" fill="#8b8b8b"/>
<rect x="732.9" y="145.9" width="26.3" height="24.7" fill="#f0f0f0"/>
<text x="745.8" y="160.4" font-size="6.5" fill="#2e2e2e" text-anchor="middle">F8</text>
<rect x="732.9" y="170.6" width="26.3" height="10.4" fill="#b1b1b1"/>
<rect x="732.9" y="173.4" width="26.3" height="0.7" fill="#9a9a9a"/>
<rect x="732.9" y="176.4" width="26.3" height="0.7" fill="#9a9a9a"/>
<rect x="734.1" y="180.8" width="23.900000000000002" height="18.4" fill="#b4b4b4"/>
<rect x="735.3" y="181.6" width="9" height="7.8" fill="#262626"/>
<rect x="737.3" y="183.6" width="5" height="4" fill="#474747"/>
<rect x="735.3" y="190.7" width="9" height="7.8" fill="#262626"/>
<rect x="737.3" y="192.7" width="5" height="4" fill="#474747"/>
<rect x="747.7" y="181.6" width="9" height="7.8" fill="#262626"/>
<rect x="749.7" y="183.6" width="5" height="4" fill="#474747"/>
<rect x="747.7" y="190.7" width="9" height="7.8" fill="#262626"/>
<rect x="749.7" y="192.7" width="5" height="4" fill="#474747"/>
<rect x="733.2" y="199.2" width="25.900000000000002" height="35.9" fill="url(#gF7c)" rx="1.4"/>
<rect x="732.9" y="199.2" width="26.3" height="1" fill="#8a8a8a"/>
<circle cx="745.9" cy="210.2" r="5.6" fill="#8a8a8a"/>
<circle cx="745.9" cy="210.2" r="4.9" fill="#181818"/>
<rect x="742.4" y="209.2" width="7" height="2" fill="#b99a4a"/>
</g>
<rect x="199.1" y="319.4" width="16.1" height="114.2" fill="#fff" stroke="#1a1a1a" stroke-width="1.6"/>
<g fill="none" stroke-width="2.8" stroke-linejoin="miter">
<path d="M290.4 235V276" stroke="#d40b1e"/>
<path d="M290.4 303V339.3H208" stroke="#1286ca" stroke-width="2.8"/>
<path d="M357.4 235V276" stroke="#d40b1e"/>
<path d="M357.4 303V351.5H208" stroke="#1286ca" stroke-width="2.8"/>
<path d="M435.7 235V276" stroke="#d40b1e"/>
<path d="M435.7 303V363.7H208" stroke="#1286ca" stroke-width="2.8"/>
<path d="M511.6 235V276" stroke="#d40b1e"/>
<path d="M511.6 303V376.0H208" stroke="#1286ca" stroke-width="2.8"/>
<path d="M571.9 230.4V276" stroke="#d40b1e"/>
<path d="M571.9 303V388.2H208" stroke="#1286ca" stroke-width="2.8"/>
<path d="M629.5 230.4V276" stroke="#d40b1e"/>
<path d="M629.5 303V400.5H208" stroke="#1286ca" stroke-width="2.8"/>
<path d="M687.9 235V276" stroke="#d40b1e"/>
<path d="M687.9 303V412.7H208" stroke="#1286ca" stroke-width="2.8"/>
<path d="M746.0 235V276" stroke="#d40b1e"/>
<path d="M746.0 303V425.0H208" stroke="#1286ca" stroke-width="2.8"/>
</g>
<path d="M207.3 318V327" stroke="#1286ca" stroke-width="2.8"/>
<circle cx="207.2" cy="327.1" r="5" fill="#1286ca"/>
<circle cx="207.2" cy="339.3" r="5" fill="#1286ca"/>
<circle cx="207.2" cy="351.5" r="5" fill="#1286ca"/>
<circle cx="207.2" cy="363.7" r="5" fill="#1286ca"/>
<circle cx="207.2" cy="376.0" r="5" fill="#1286ca"/>
<circle cx="207.2" cy="388.2" r="5" fill="#1286ca"/>
<circle cx="207.2" cy="400.5" r="5" fill="#1286ca"/>
<circle cx="207.2" cy="412.7" r="5" fill="#1286ca"/>
<circle cx="207.2" cy="425.0" r="5" fill="#1286ca"/>
<g fill="#fff" stroke="#1a1a1a" stroke-width="1.8" stroke-linejoin="miter">
<rect x="267.75" y="275.3" width="44.30" height="28"/>
<path d="M279.0 303L300.2 275.6" fill="none"/>
<rect x="323.05" y="275.3" width="68.3" height="28"/>
<rect x="401.85" y="275.3" width="68.3" height="28"/>
<rect x="479.65" y="275.3" width="44.10" height="28"/>
<path d="M490.9 303L512.1 275.6" fill="none"/>
<path d="M532.3 276H543.5L532.3 302.8H543.5Z" fill="#fff"/>
<path d="M537.9 272.2V276M537.9 302.8V306.4M524.5 289.4H528.5M532.9 289.4H537.9" fill="none"/>
<circle cx="571.9" cy="289.2" r="13.8"/>
<path d="M562.2 279.5L581.6 298.9M581.6 279.5L562.2 298.9" fill="none"/>
<rect x="597.75" y="275.3" width="43.90" height="28"/>
<path d="M609.0 303L630.2 275.6" fill="none"/>
<path d="M650.1 276H661.3L650.1 302.8H661.3Z" fill="#fff"/>
<path d="M655.7 272.2V276M655.7 302.8V306.4M642.3 289.4H646.3M650.7 289.4H655.7" fill="none"/>
<circle cx="687.8" cy="289.2" r="14"/>
<rect x="714.15" y="275.3" width="43.90" height="28"/>
<path d="M725.4 303L746.6 275.6" fill="none"/>
<path d="M766.8 276H778.0L766.8 302.8H778.0Z" fill="#fff"/>
<path d="M772.4 272.2V276M772.4 302.8V306.4M759.0 289.4H763.0M767.4 289.4H772.4" fill="none"/>
</g>
<g font-weight="bold" fill="#111" stroke="#111" stroke-width="0.3" text-anchor="middle">
<text transform="translate(357.5 294.4) scale(0.95 1)" font-size="15">PLC</text>
<text transform="translate(436.1 294.4) scale(0.95 1)" font-size="15">PLC</text>
<text transform="translate(687.9 294) scale(0.84 1)" font-size="14.8">M</text>
</g>
<path d="M682.4 296H693.6" stroke="#1a1a1a" stroke-width="1.1"/>
</svg>
</body>
</html>
